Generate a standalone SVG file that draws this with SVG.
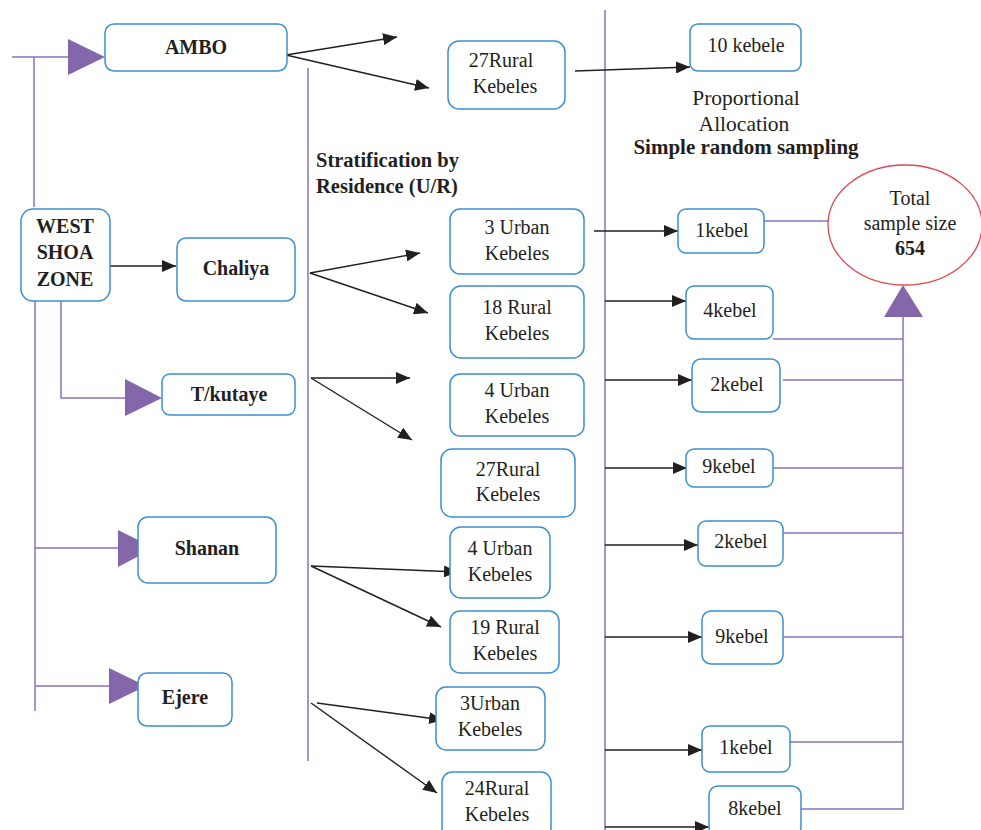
<svg xmlns="http://www.w3.org/2000/svg" width="981" height="830" viewBox="0 0 981 830">
<style>
.box{fill:#fff;stroke:#3d8fcf;stroke-width:1.5}
.t{font-family:"Liberation Serif","DejaVu Serif",serif;font-size:20px;fill:#231f20;text-anchor:middle}
.b{font-weight:bold}
.p{stroke:#8d70b8;stroke-width:1.5;fill:none}
.a{stroke:#231f20;stroke-width:1.4;fill:none;marker-end:url(#ah)}
.tri{fill:#8466ab}
</style>
<defs>
<marker id="ah" markerUnits="userSpaceOnUse" markerWidth="16" markerHeight="12" refX="14" refY="6" orient="auto">
<path d="M0,0 L14,6 L0,12 z" fill="#231f20"/>
</marker>
</defs>
<rect width="981" height="830" fill="#fff"/>
<g id="connectors">
<path class="p" d="M12,57 H70"/>
<path class="p" d="M34,57 V207"/>
<path class="p" d="M35,301 V711"/>
<path class="p" d="M61,301 V398 H126"/>
<path class="p" d="M35,548 H119"/>
<path class="p" d="M35,686 H110"/>
<polygon class="tri" points="68,39 105,57 68,75"/>
<polygon class="tri" points="125,379 162,398 125,416"/>
<polygon class="tri" points="118,530 154,548 118,567"/>
<polygon class="tri" points="109,668 146,686 109,704"/>
<path class="p" d="M308,68 V761"/>
<path class="p" d="M605,10 V830"/>
<path class="p" d="M764,221 H829"/>
<path class="p" d="M773,339 H903"/>
<path class="p" d="M783,380 H903"/>
<path class="p" d="M773,468 H903"/>
<path class="p" d="M774,533 H903"/>
<path class="p" d="M780,637 H903"/>
<path class="p" d="M790,742 H903"/>
<path class="p" d="M801,809 H903 V316"/>
<polygon class="tri" points="884,317 903,285 923,317"/>
<path class="a" d="M286,55 L397,37"/>
<path class="a" d="M286,55 L429,88"/>
<path class="a" d="M575,71 L690,67"/>
<path class="a" d="M105,266 L176,266"/>
<path class="a" d="M310,273 L420,253"/>
<path class="a" d="M310,273 L428,313"/>
<path class="a" d="M594,231 L678,231"/>
<path class="a" d="M605,301 L686,301"/>
<path class="a" d="M311,378 L410,378"/>
<path class="a" d="M311,378 L412,440"/>
<path class="a" d="M605,380 L692,380"/>
<path class="a" d="M605,468 L687,468"/>
<path class="a" d="M605,545 L698,545"/>
<path class="a" d="M311,566 L458,572"/>
<path class="a" d="M311,566 L441,627"/>
<path class="a" d="M605,637 L702,637"/>
<path class="a" d="M317,703 L443,720"/>
<path class="a" d="M311,703 L437,793"/>
<path class="a" d="M605,750 L702,750"/>
<path class="a" d="M605,827 L709,827"/>
</g>
<g id="ambo"><rect class="box" x="105" y="24" width="182" height="47" rx="9"/><text class="t b" x="196" y="54">AMBO</text></g>
<g id="west"><rect class="box" x="21" y="209" width="89" height="92" rx="12"/><text class="t b" x="65" y="233">WEST</text><text class="t b" x="65" y="259">SHOA</text><text class="t b" x="65" y="286">ZONE</text></g>
<g id="chaliya"><rect class="box" x="177" y="238" width="118" height="63" rx="9"/><text class="t b" x="236" y="275">Chaliya</text></g>
<g id="tkutaye"><rect class="box" x="162" y="374" width="133" height="41" rx="8"/><text class="t b" x="229" y="401">T/kutaye</text></g>
<g id="shanan"><rect class="box" x="138" y="517" width="138" height="66" rx="10"/><text class="t b" x="207" y="555">Shanan</text></g>
<g id="ejere"><rect class="box" x="138" y="673" width="94" height="53" rx="9"/><text class="t b" x="185" y="704">Ejere</text></g>
<g id="strat-label"><text class="t b" x="316" y="167" style="text-anchor:start;font-size:20.5px">Stratification by</text><text class="t b" x="316" y="193" style="text-anchor:start;font-size:20.5px">Residence (U/R)</text></g>
<g id="ambo-rural"><rect class="box" x="448" y="41" width="117" height="68" rx="11"/><text class="t" x="501" y="67">27Rural</text><text class="t" x="505" y="93">Kebeles</text></g>
<g id="chaliya-urban"><rect class="box" x="450" y="209" width="134" height="65" rx="10"/><text class="t" x="517" y="234">3 Urban</text><text class="t" x="517" y="260">Kebeles</text></g>
<g id="chaliya-rural"><rect class="box" x="450" y="286" width="134" height="72" rx="11"/><text class="t" x="517" y="314">18 Rural</text><text class="t" x="517" y="340">Kebeles</text></g>
<g id="tkutaye-urban"><rect class="box" x="450" y="374" width="134" height="62" rx="10"/><text class="t" x="517" y="397">4 Urban</text><text class="t" x="517" y="423">Kebeles</text></g>
<g id="tkutaye-rural"><rect class="box" x="441" y="449" width="134" height="68" rx="11"/><text class="t" x="508" y="476">27Rural</text><text class="t" x="508" y="501">Kebeles</text></g>
<g id="shanan-urban"><rect class="box" x="450" y="527" width="100" height="71" rx="11"/><text class="t" x="500" y="555">4 Urban</text><text class="t" x="500" y="581">Kebeles</text></g>
<g id="shanan-rural"><rect class="box" x="450" y="611" width="109" height="62" rx="10"/><text class="t" x="505" y="634">19 Rural</text><text class="t" x="505" y="660">Kebeles</text></g>
<g id="ejere-urban"><rect class="box" x="436" y="687" width="109" height="63" rx="10"/><text class="t" x="490" y="710">3Urban</text><text class="t" x="490" y="736">Kebeles</text></g>
<g id="ejere-rural"><rect class="box" x="442" y="772" width="109" height="66" rx="10"/><text class="t" x="497" y="795">24Rural</text><text class="t" x="497" y="821">Kebeles</text></g>
<g id="k10"><rect class="box" x="690" y="24" width="111" height="47" rx="8"/><text class="t" x="746" y="52">10 kebele</text></g>
<g id="alloc-label"><text class="t" x="746" y="105" style="font-size:21.5px">Proportional</text><text class="t" x="744" y="131" style="font-size:21.5px">Allocation</text><text class="t b" x="746" y="154" style="font-size:21px">Simple random sampling</text></g>
<g id="total"><ellipse cx="905" cy="225" rx="77" ry="60" fill="#fff" stroke="#e0474c" stroke-width="1.3"/><text class="t" x="910" y="205">Total</text><text class="t" x="910" y="230">sample size</text><text class="t b" x="910" y="255">654</text></g>
<g id="k1a"><rect class="box" x="678" y="209" width="86" height="44" rx="8"/><text class="t" x="722" y="237">1kebel</text></g>
<g id="k4"><rect class="box" x="686" y="286" width="87" height="53" rx="8"/><text class="t" x="730" y="317">4kebel</text></g>
<g id="k2a"><rect class="box" x="692" y="359" width="88" height="53" rx="9"/><text class="t" x="737" y="391">2kebel</text></g>
<g id="k9a"><rect class="box" x="686" y="449" width="87" height="38" rx="8"/><text class="t" x="729" y="473">9kebel</text></g>
<g id="k2b"><rect class="box" x="698" y="521" width="85" height="45" rx="8"/><text class="t" x="741" y="548">2kebel</text></g>
<g id="k9b"><rect class="box" x="702" y="611" width="81" height="53" rx="9"/><text class="t" x="742" y="643">9kebel</text></g>
<g id="k1b"><rect class="box" x="702" y="726" width="88" height="46" rx="8"/><text class="t" x="746" y="754">1kebel</text></g>
<g id="k8"><rect class="box" x="709" y="786" width="92" height="50" rx="9"/><text class="t" x="755" y="815">8kebel</text></g>
</svg>
